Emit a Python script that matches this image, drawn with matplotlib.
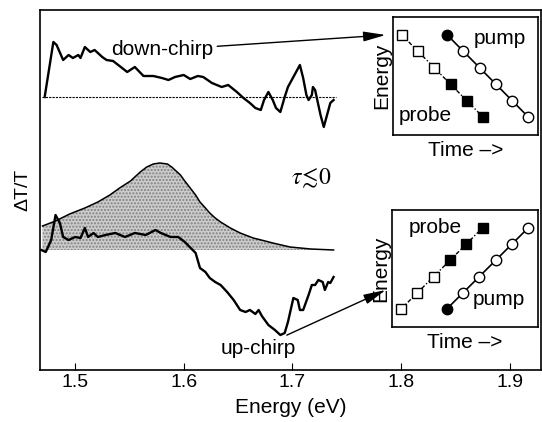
import matplotlib
matplotlib.use('Agg')
import matplotlib.pyplot as plt
import numpy as np

plt.rcParams['font.family'] = ['Liberation Sans', 'DejaVu Sans']
plt.rcParams['mathtext.fontset'] = 'stix'

# down-chirp trace (energy in eV, signal in arb. units above its baseline)
down_E = [1.472, 1.480, 1.483, 1.489, 1.494, 1.498, 1.503, 1.505, 1.509, 1.514,
          1.518, 1.525, 1.529, 1.535, 1.548, 1.555, 1.563, 1.572, 1.580, 1.586,
          1.592, 1.600, 1.606, 1.613, 1.618, 1.626, 1.635, 1.641, 1.649, 1.655,
          1.661, 1.666, 1.671, 1.674, 1.678, 1.682, 1.685, 1.689, 1.693, 1.696,
          1.702, 1.707, 1.710, 1.713, 1.715, 1.718, 1.719, 1.721, 1.723, 1.726,
          1.729, 1.732, 1.735, 1.738]
down_dT = [0, 55, 52, 37, 42, 39, 42, 39, 50, 45,
           47, 40, 37, 36, 25, 30, 21, 21, 19, 17,
           20, 22, 18, 21, 20, 14, 10, 12, 5, -1,
           -6, -11, -13, -3, 5, -3, -11, -15, 0, 10,
           22, 32, 19, 2, -3, 2, 10, 7, -3, -18,
           -30, -18, -6, -3]

# up-chirp trace
up_E = [1.469, 1.473, 1.478, 1.482, 1.486, 1.489, 1.494, 1.500, 1.505, 1.509,
        1.512, 1.517, 1.521, 1.528, 1.537, 1.546, 1.555, 1.565, 1.574, 1.579,
        1.588, 1.595, 1.601, 1.611, 1.615, 1.620, 1.624, 1.629, 1.634, 1.640,
        1.646, 1.652, 1.657, 1.661, 1.666, 1.669, 1.672, 1.678, 1.684, 1.689,
        1.693, 1.696, 1.701, 1.705, 1.707, 1.710, 1.715, 1.718, 1.721, 1.724,
        1.728, 1.730, 1.733, 1.735, 1.738]
up_dT = [0, -2, 10, 35, 27, 13, 10, 13, 12, 22,
         13, 17, 13, 15, 17, 13, 17, 15, 20, 17,
         13, 13, 8, -3, -18, -22, -28, -32, -35, -42,
         -50, -60, -62, -60, -64, -60, -66, -75, -80, -85,
         -83, -72, -48, -50, -60, -60, -45, -35, -35, -30,
         -32, -40, -32, -33, -27]

# pump spectrum (shaded)
pump_E = [1.470, 1.482, 1.495, 1.509, 1.521, 1.532, 1.541, 1.551, 1.560, 1.566,
          1.572, 1.578, 1.585, 1.589, 1.593, 1.597, 1.601, 1.606, 1.611, 1.615,
          1.620, 1.624, 1.629, 1.634, 1.643, 1.652, 1.664, 1.675, 1.682, 1.698,
          1.717, 1.738]
pump_I = [24, 29, 36, 42, 48, 55, 62, 69, 78, 83,
          86, 87, 86, 83, 79, 75, 69, 62, 55, 48,
          42, 37, 32, 28, 22, 17, 12, 9, 7, 3,
          1, 0]

down_offset = 273
up_offset = 120

# inset schematics: time step / energy step
probe_t = [0, 1, 2, 3, 4, 5]
pump_t = [2.8, 3.8, 4.8, 5.8, 6.8, 7.8]
levels_down = [5, 4, 3, 2, 1, 0]
levels_up = [0, 1, 2, 3, 4, 5]
probe_filled = [False, False, False, True, True, True]
pump_filled = [True, False, False, False, False, False]

W, H = 542, 422
fig = plt.figure(figsize=(W / 100, H / 100), dpi=100)
ax = fig.add_axes([40 / W, 52 / H, 501 / W, 360 / H])

ax.fill_between(pump_E, up_offset, np.array(pump_I) + up_offset,
                facecolor='0.8', edgecolor='0.5', hatch='.....', lw=0)
ax.plot(pump_E, np.array(pump_I) + up_offset, color='k', lw=1.1)
ax.plot([1.470, 1.740], [down_offset, down_offset], color='k', lw=0.8,
        ls=(0, (2, 1)))
ax.plot(down_E, np.array(down_dT) + down_offset, color='k', lw=1.7)
ax.plot(up_E, np.array(up_dT) + up_offset, color='k', lw=1.7)

arrow = dict(arrowstyle='-|>,head_width=0.2,head_length=0.9', color='k',
             lw=1.0, shrinkA=1, shrinkB=0)
ax.annotate('down-chirp', xy=(1.786, 335), xytext=(1.580, 320),
            ha='center', va='center', fontsize=15, arrowprops=arrow)
ax.annotate('up-chirp', xy=(1.786, 80), xytext=(1.669, 22),
            ha='center', va='center', fontsize=15, arrowprops=arrow)
ax.text(1.717, 192, r'$\tau\!\lesssim\!0$', fontsize=17, ha='center', va='center')

ax.set_xlim(1.4677, 1.929)
ax.set_ylim(0, 360)
ax.set_xticks([1.5, 1.6, 1.7, 1.8, 1.9])
ax.set_xticklabels(['1.5', '1.6', '1.7', '1.8', '1.9'])
ax.set_yticks([])
ax.tick_params(axis='x', direction='in', length=5, labelsize=14, pad=3)
ax.set_xlabel('Energy (eV)', fontsize=15)
ax.xaxis.set_label_coords(0.5, -0.078)
ax.set_ylabel('ΔT/T', fontsize=14, labelpad=6)
for s in ax.spines.values():
    s.set_linewidth(1.2)


def schematic(rect, levels):
    ins = fig.add_axes(rect)
    ins.plot(probe_t, levels, color='k', lw=1.0, ls=(0, (3, 1.5, 1, 1.5)))
    for t, e, f in zip(probe_t, levels, probe_filled):
        ins.plot(t, e, 's', ms=6.5, mec='k', mew=1.0, mfc='k' if f else 'w')
    ins.plot(pump_t, levels, color='k', lw=1.2)
    for t, e, f in zip(pump_t, levels, pump_filled):
        ins.plot(t, e, 'o', ms=7.5, mec='k', mew=1.0, mfc='k' if f else 'w')
    ins.set_xlim(-0.55, 8.4)
    ins.set_ylim(-1.1, 6.1)
    ins.set_xticks([])
    ins.set_yticks([])
    ins.set_xlabel('Time –>', fontsize=15, labelpad=4)
    ins.set_ylabel('Energy', fontsize=15, labelpad=1)
    for s in ins.spines.values():
        s.set_linewidth(1.2)
    return ins


top = schematic([393 / W, (H - 135) / H, 145 / W, 118 / H], levels_down)
top.text(6.05, 4.8, 'pump', fontsize=15, ha='center', va='center')
top.text(1.45, 0.1, 'probe', fontsize=15, ha='center', va='center')

bot = schematic([392 / W, (H - 327) / H, 146 / W, 117 / H], levels_up)
bot.text(2.1, 5.0, 'probe', fontsize=15, ha='center', va='center')
bot.text(6.0, 0.6, 'pump', fontsize=15, ha='center', va='center')

fig.savefig('out.png', dpi=100)
